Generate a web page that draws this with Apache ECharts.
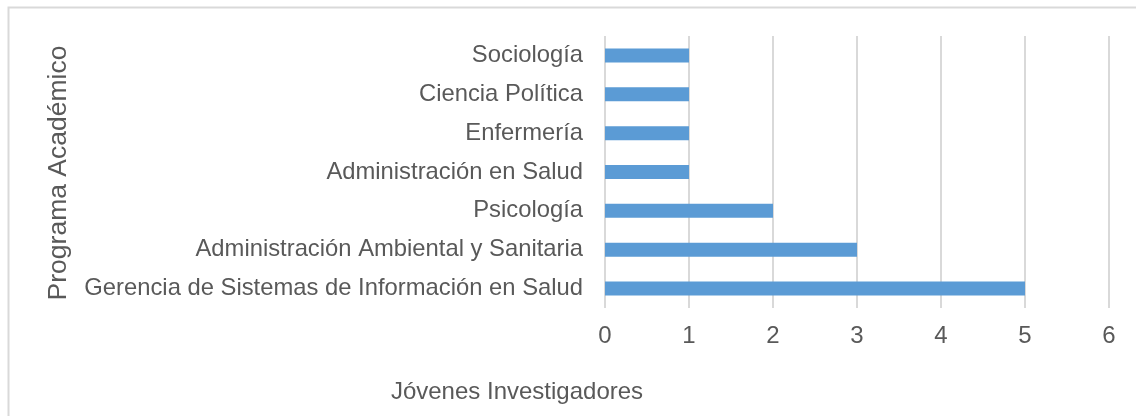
<!DOCTYPE html>
<html>
<head>
<meta charset="utf-8">
<script src="https://cdn.jsdelivr.net/npm/echarts@6/dist/echarts.min.js"></script>
<style>
html,body{margin:0;padding:0;background:#fff;}
#c{width:1136px;height:416px;}
</style>
</head>
<body>
<div id="c"></div>
<script>
const categories = [
  "Gerencia de Sistemas de Información en Salud",
  "Administración Ambiental y Sanitaria",
  "Psicología",
  "Administración en Salud",
  "Enfermería",
  "Ciencia Política",
  "Sociología"
];
const values = [5, 3, 2, 1, 1, 1, 1];
const xTicks = [0, 1, 2, 3, 4, 5, 6];
const xTitle = "Jóvenes Investigadores";
const yTitle = "Programa Académico";

const chart = echarts.init(document.getElementById('c'), null, {renderer: 'canvas'});
const font = "'Liberation Sans', Arial, sans-serif";
chart.setOption({
  animation: false,
  backgroundColor: '#fff',
  grid: {left: 605, top: 36, width: 504, height: 272, containLabel: false},
  xAxis: {
    type: 'value', min: xTicks[0], max: xTicks[xTicks.length - 1], interval: 1,
    axisLine: {show: false}, axisTick: {show: false},
    splitLine: {show: true, lineStyle: {color: '#d9d9d9', width: 2}},
    axisLabel: {color: '#595959', fontSize: 24, fontFamily: font, margin: 16}
  },
  yAxis: {
    type: 'category', data: categories,
    axisLine: {show: false}, axisTick: {show: false},
    axisLabel: {color: '#595959', fontSize: 23.8, fontFamily: font, margin: 22}
  },
  series: [{
    type: 'bar', data: values, barWidth: 14,
    itemStyle: {color: '#5b9bd5'}
  }],
  graphic: [
    {type: 'rect', shape: {x: 8.5, y: 7.5, width: 1140, height: 420},
     style: {fill: 'none', stroke: '#d9d9d9', lineWidth: 2}, z: -10},
    {type: 'text', x: 517, y: 392,
     style: {text: xTitle, fill: '#595959', font: '24px ' + font, textAlign: 'center', textVerticalAlign: 'middle'}},
    {type: 'text', x: 59, y: 173, rotation: Math.PI / 2,
     style: {text: yTitle, fill: '#595959', font: '26.5px ' + font, textAlign: 'center', textVerticalAlign: 'middle'}}
  ]
});
</script>
</body>
</html>
